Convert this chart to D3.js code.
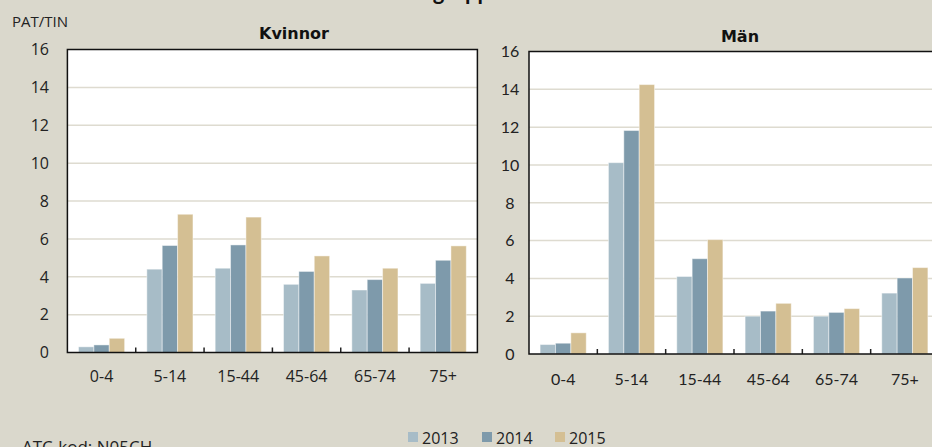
<!DOCTYPE html>
<html><head><meta charset="utf-8">
<script src="https://cdn.jsdelivr.net/npm/d3@7"></script>
<style>
html,body{margin:0;padding:0;background:#dad8cc;overflow:hidden}
svg{display:block}
</style></head>
<body>
<svg id="c" width="932" height="447"></svg>
<script>
const categories = ["0-4","5-14","15-44","45-64","65-74","75+"];
const years = ["2013","2014","2015"];
const kvinnor2013 = [0.3, 4.4, 4.45, 3.6, 3.3, 3.65];
const kvinnor2014 = [0.4, 5.65, 5.68, 4.28, 3.85, 4.87];
const kvinnor2015 = [0.75, 7.3, 7.15, 5.1, 4.45, 5.63];
const man2013 = [0.5, 10.12, 4.1, 2.0, 2.0, 3.22];
const man2014 = [0.57, 11.82, 5.04, 2.27, 2.2, 4.02];
const man2015 = [1.12, 14.25, 6.05, 2.68, 2.4, 4.57];
const yTicks = [0,2,4,6,8,10,12,14,16];
const colors = ["#a7bcc7","#7e9aab","#d4bf93"];

const svg = d3.select("#c");

// cut-off title (only descenders visible)
svg.append("text").attr("x",490).attr("y",0).attr("text-anchor","end")
  .attr("font-family","Lato, 'DejaVu Sans', sans-serif").attr("font-weight","bold")
  .attr("font-size",22).attr("fill","#111").text("Åldersgrupp");

svg.append("text").attr("x",12).attr("y",27).attr("font-family","'Open Sans', sans-serif")
  .attr("font-size",15).attr("fill","#222").text("PAT/TIN");

function panel(cfg){
  const {left, width, top, bottom, title, titleX, titleY, series, font, tickX, tickAnchor, labelY} = cfg;
  const g = svg.append("g");
  const y = d3.scaleLinear().domain([0,16]).range([bottom, top]);
  const x0 = d3.scaleBand().domain(categories).range([left, left+width]).paddingInner(0.325).paddingOuter(0.1625);
  const x1 = d3.scaleBand().domain(years).range([0, x0.bandwidth()]);
  g.append("rect").attr("x",left).attr("y",top).attr("width",width).attr("height",bottom-top).attr("fill","#fff");
  g.selectAll("line.grid").data(yTicks.filter(t=>t>0 && t<16)).join("line")
    .attr("x1",left).attr("x2",left+width).attr("y1",d=>y(d)).attr("y2",d=>y(d))
    .attr("stroke","#dedbd0").attr("stroke-width",1.5);
  years.forEach((yr,si)=>{
    g.selectAll("rect.s"+si).data(series[si]).join("rect")
      .attr("x",(d,i)=>x0(categories[i])+x1(yr)).attr("width",x1.bandwidth())
      .attr("y",d=>y(d)).attr("height",d=>y(0)-y(d))
      .attr("fill",colors[si]).attr("stroke","rgba(255,255,255,0.45)").attr("stroke-width",1);
  });
  const step = x0.step();
  g.selectAll("line.tk").data(d3.range(1,categories.length)).join("line")
    .attr("x1",d=>left+d*step).attr("x2",d=>left+d*step).attr("y1",bottom).attr("y2",bottom-5)
    .attr("stroke","#222").attr("stroke-width",1.5);
  g.append("rect").attr("x",left).attr("y",top).attr("width",width).attr("height",bottom-top)
    .attr("fill","none").attr("stroke","#111").attr("stroke-width",1.5);
  g.selectAll("text.yt").data(yTicks).join("text")
    .attr("x",tickX).attr("y",d=>y(d)).attr("dy","0.36em").attr("text-anchor",tickAnchor)
    .attr("font-family",font).attr("font-size",16).attr("fill","#222").text(d=>d);
  g.selectAll("text.xt").data(categories).join("text")
    .attr("x",d=>x0(d)+x0.bandwidth()/2).attr("y",labelY).attr("text-anchor","middle")
    .attr("font-family",font).attr("font-size",16).attr("fill","#222").text(d=>d);
  g.append("text").attr("x",titleX).attr("y",titleY).attr("text-anchor","middle")
    .attr("font-family","'DejaVu Sans', sans-serif").attr("font-weight","bold").attr("font-size",16)
    .attr("fill","#111").text(title);
}

panel({left:67.4, width:410, top:49.5, bottom:352.5, title:"Kvinnor", titleX:294, titleY:39,
  series:[kvinnor2013,kvinnor2014,kvinnor2015], font:"'Open Sans', sans-serif",
  tickX:49, tickAnchor:"end", labelY:382});
panel({left:529, width:410, top:51.5, bottom:354, title:"Män", titleX:740, titleY:42,
  series:[man2013,man2014,man2015], font:"Lato, sans-serif",
  tickX:510, tickAnchor:"middle", labelY:385});

// legend
const legX = [408, 482, 555];
years.forEach((yr,i)=>{
  svg.append("rect").attr("x",legX[i]).attr("y",432).attr("width",10).attr("height",10).attr("fill",colors[i]);
  svg.append("text").attr("x",legX[i]+14).attr("y",443.5).attr("font-family","'Open Sans', sans-serif")
    .attr("font-size",16).attr("fill","#222").text(yr);
});

svg.append("text").attr("x",22).attr("y",453).attr("font-family","'Open Sans', sans-serif")
  .attr("font-size",17).attr("fill","#222").text("ATC-kod: N05CH");
</script>
</body></html>
